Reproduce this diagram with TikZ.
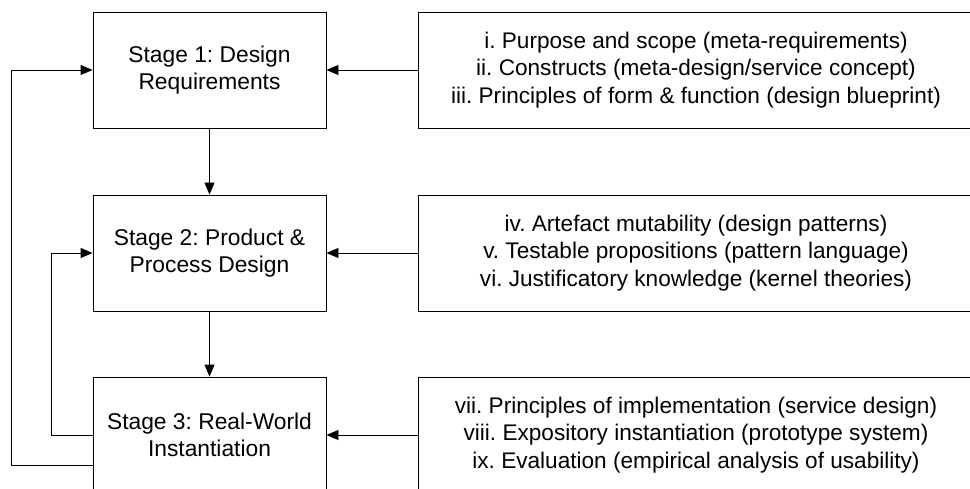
\documentclass[tikz,border=0pt]{standalone}
\usepackage{fontspec}
\setmainfont{Liberation Sans}
\usetikzlibrary{arrows.meta,positioning}
\begin{document}
\frenchspacing
\begin{tikzpicture}[x=1pt,y=-1pt,
  stagebox/.style={draw, line width=0.9pt, minimum width=233pt, minimum height=116pt,
    align=center, inner sep=0pt, font=\fontsize{22.8}{27}\selectfont},
  infobox/.style={draw, line width=0.9pt, minimum width=555pt, minimum height=116pt,
    align=center, inner sep=0pt, font=\fontsize{22.6}{27.5}\selectfont},
  arr/.style={line width=0.9pt, -{Triangle[length=12pt,width=10pt]}}]
\useasboundingbox (0,0) rectangle (970,489);
\node[stagebox] (s1) at (209.5,70) {Stage 1: Design\\Requirements};
\node[stagebox] (s2) at (209.5,253) {Stage 2: Product \&\\Process Design};
\node[stagebox] (s3) at (209.5,435) {Stage 3: Real-World\\Instantiation};
\node[infobox] (r1) at (696,70) {i. Purpose and scope (meta-requirements)\\ii. Constructs (meta-design/service concept)\\iii. Principles of form \& function (design blueprint)};
\node[infobox] (r2) at (696,253) {iv. Artefact mutability (design patterns)\\v. Testable propositions (pattern language)\\vi. Justificatory knowledge (kernel theories)};
\node[infobox] (r3) at (696,435) {vii. Principles of implementation (service design)\\viii. Expository instantiation (prototype system)\\ix. Evaluation (empirical analysis of usability)};
\draw[arr] (r1.west) -- (s1.east);
\draw[arr] (r2.west) -- (s2.east);
\draw[arr] (r3.west) -- (s3.east);
\draw[arr] (s1.south) -- (s2.north);
\draw[arr] (s2.south) -- (s3.north);
\draw[arr] (s3.west) -- ++(-41,0) |- (s2.west);
\draw[arr] ([yshift=-30pt]s3.west) -- ++(-81,0) |- (s1.west);
\end{tikzpicture}
\end{document}
